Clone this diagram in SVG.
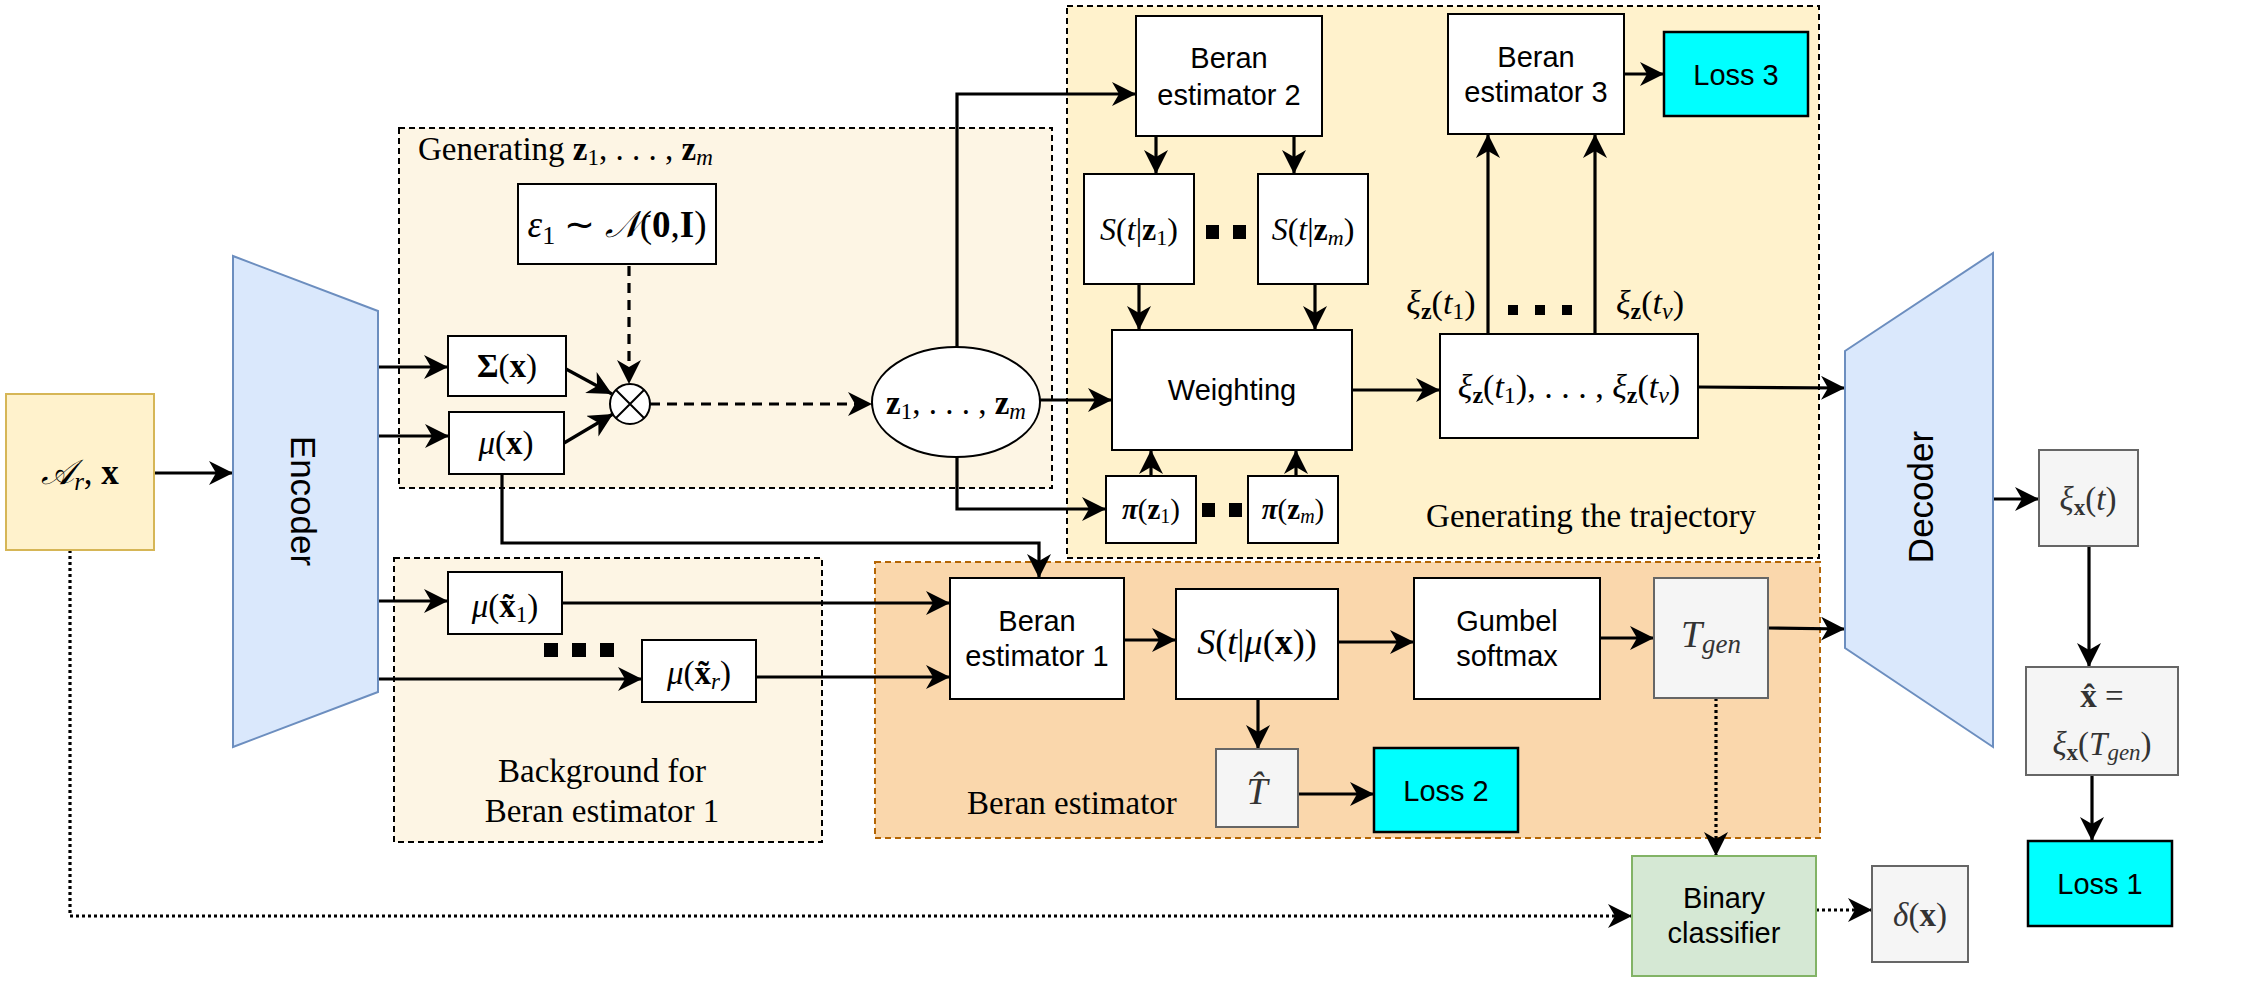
<svg xmlns="http://www.w3.org/2000/svg" width="2248" height="982" viewBox="0 0 2248 982">
<style>
.box{fill:#fff;stroke:#000;stroke-width:2}
.gray{fill:#f5f5f5;stroke:#666;stroke-width:2}
.cyan{fill:#00ffff;stroke:#000;stroke-width:2.5}
.lbl{font-family:"Liberation Sans",Arial,sans-serif;font-size:29px;text-anchor:middle;fill:#000}
.m{font-family:"Liberation Serif","Times New Roman",serif;text-anchor:middle;fill:#000}
.g{fill:#333}
.t{font-family:"Liberation Serif","Times New Roman",serif;font-size:33px;fill:#000}
.it{font-style:italic}
.bf{font-weight:bold}
.conn{fill:none;stroke:#000;stroke-width:3.2}
.dash{stroke-dasharray:10 7}
.dot{stroke-dasharray:3 3}
.dots rect{fill:#000}
</style>
<defs>
<marker id="ah" markerUnits="userSpaceOnUse" markerWidth="24" markerHeight="24" viewBox="0 0 24 24" refX="24" refY="12" orient="auto">
<path d="M0,0 L24,12 L0,24 L7,12 z" fill="#000"/>
</marker>
</defs>

<!-- containers -->
<g id="grp-generating">
<rect x="399" y="128" width="653" height="360" fill="#fdf5e4" stroke="#000" stroke-width="2" stroke-dasharray="6 4"/>
<text class="t" x="418" y="160">Generating <tspan class="bf">z</tspan><tspan font-size="23" dy="5">1</tspan><tspan dy="-5">, . . . , </tspan><tspan class="bf">z</tspan><tspan class="it" font-size="23" dy="5">m</tspan></text>
</g>
<g id="grp-trajectory">
<rect x="1067" y="6" width="752" height="552" fill="#fff2cc" stroke="#000" stroke-width="2" stroke-dasharray="6 4"/>
<text class="t" x="1591" y="527" text-anchor="middle">Generating the trajectory</text>
</g>
<g id="grp-background">
<rect x="394" y="558" width="428" height="284" fill="#fdf5e4" stroke="#000" stroke-width="2" stroke-dasharray="6 4"/>
<text class="t" x="602" y="782" text-anchor="middle">Background for</text>
<text class="t" x="602" y="822" text-anchor="middle">Beran estimator 1</text>
</g>
<g id="grp-beran">
<rect x="875" y="562" width="945" height="276" fill="#fad7ac" stroke="#b46504" stroke-width="2" stroke-dasharray="6 4"/>
<text class="t" x="967" y="814">Beran estimator</text>
</g>

<!-- connectors -->
<g id="connectors">
<path class="conn" d="M154,473 L233,473" marker-end="url(#ah)"/>
<path class="conn" d="M378,367 L448,367" marker-end="url(#ah)"/>
<path class="conn" d="M378,436 L449,436" marker-end="url(#ah)"/>
<path class="conn" d="M566,369 L612,394" marker-end="url(#ah)"/>
<path class="conn" d="M564,443 L613,414" marker-end="url(#ah)"/>
<path class="conn dash" d="M629,266 L629,384" marker-end="url(#ah)"/>
<path class="conn dash" d="M650,404 L872,404" marker-end="url(#ah)"/>
<path class="conn" d="M957,347 L957,94 L1136,94" marker-end="url(#ah)"/>
<path class="conn" d="M957,457 L957,509 L1106,509" marker-end="url(#ah)"/>
<path class="conn" d="M1040,400 L1112,400" marker-end="url(#ah)"/>
<path class="conn" d="M502,474 L502,543 L1039,543 L1039,578" marker-end="url(#ah)"/>
<path class="conn" d="M378,601 L448,601" marker-end="url(#ah)"/>
<path class="conn" d="M378,679 L642,679" marker-end="url(#ah)"/>
<path class="conn" d="M562,603 L950,603" marker-end="url(#ah)"/>
<path class="conn" d="M756,677 L950,677" marker-end="url(#ah)"/>
<path class="conn" d="M1156,136 L1156,174" marker-end="url(#ah)"/>
<path class="conn" d="M1294,136 L1294,174" marker-end="url(#ah)"/>
<path class="conn" d="M1139,284 L1139,330" marker-end="url(#ah)"/>
<path class="conn" d="M1315,284 L1315,330" marker-end="url(#ah)"/>
<path class="conn" d="M1151,476 L1151,450" marker-end="url(#ah)"/>
<path class="conn" d="M1296,476 L1296,450" marker-end="url(#ah)"/>
<path class="conn" d="M1352,390 L1440,390" marker-end="url(#ah)"/>
<path class="conn" d="M1488,334 L1488,134" marker-end="url(#ah)"/>
<path class="conn" d="M1595,334 L1595,134" marker-end="url(#ah)"/>
<path class="conn" d="M1624,74 L1664,74" marker-end="url(#ah)"/>
<path class="conn" d="M1698,387 L1845,388" marker-end="url(#ah)"/>
<path class="conn" d="M1124,640 L1176,640" marker-end="url(#ah)"/>
<path class="conn" d="M1338,642 L1414,642" marker-end="url(#ah)"/>
<path class="conn" d="M1600,638 L1654,638" marker-end="url(#ah)"/>
<path class="conn" d="M1768,628 L1845,629" marker-end="url(#ah)"/>
<path class="conn" d="M1258,699 L1258,749" marker-end="url(#ah)"/>
<path class="conn" d="M1298,794 L1374,794" marker-end="url(#ah)"/>
<path class="conn dot" d="M1716,698 L1716,856" marker-end="url(#ah)"/>
<path class="conn dot" d="M70,550 L70,916 L1632,916" marker-end="url(#ah)"/>
<path class="conn dot" d="M1816,910 L1872,910" marker-end="url(#ah)"/>
<path class="conn" d="M1993,499 L2039,499" marker-end="url(#ah)"/>
<path class="conn" d="M2089,546 L2089,667" marker-end="url(#ah)"/>
<path class="conn" d="M2092,775 L2092,841" marker-end="url(#ah)"/>
</g>

<!-- nodes -->
<g id="input">
<rect x="6" y="394" width="148" height="156" fill="#fff2cc" stroke="#d6b656" stroke-width="2"/>
<text class="m" x="80" y="484" font-size="35"><tspan class="it">𝒜</tspan><tspan class="it" font-size="25" dy="6">r</tspan><tspan dy="-6">, </tspan><tspan class="bf">x</tspan></text>
</g>
<g id="encoder">
<polygon points="233,256 378,311 378,692 233,747" fill="#dae8fc" stroke="#6c8ebf" stroke-width="2"/>
<text class="lbl" transform="translate(303,501) rotate(90)" dominant-baseline="central" style="font-size:35px">Encoder</text>
</g>
<g id="eps">
<rect class="box" x="518" y="184" width="198" height="80"/>
<text class="m" x="617" y="237" font-size="37"><tspan class="it">ε</tspan><tspan font-size="26" dy="7">1</tspan><tspan dy="-7"> ∼ </tspan><tspan class="it">𝒩</tspan>(<tspan class="bf">0</tspan>,<tspan class="bf">I</tspan>)</text>
</g>
<g id="sigma">
<rect class="box" x="448" y="336" width="118" height="60"/>
<text class="m" x="507" y="377" font-size="33"><tspan class="bf">Σ</tspan>(<tspan class="bf">x</tspan>)</text>
</g>
<g id="mu">
<rect class="box" x="449" y="412" width="115" height="62"/>
<text class="m" x="506" y="454" font-size="33"><tspan class="it">μ</tspan>(<tspan class="bf">x</tspan>)</text>
</g>
<g id="otimes">
<circle cx="630" cy="404" r="20" fill="#fff" stroke="#000" stroke-width="2"/>
<path d="M616,390 L644,418 M644,390 L616,418" stroke="#000" stroke-width="2"/>
</g>
<g id="zset">
<ellipse cx="956" cy="402" rx="84" ry="55" fill="#fff" stroke="#000" stroke-width="2"/>
<text class="m" x="956" y="414" font-size="33"><tspan class="bf">z</tspan><tspan font-size="23" dy="5">1</tspan><tspan dy="-5">, . . . , </tspan><tspan class="bf">z</tspan><tspan class="it" font-size="23" dy="5">m</tspan></text>
</g>
<g id="mux1">
<rect class="box" x="448" y="572" width="114" height="62"/>
<text class="m" x="505" y="617" font-size="33"><tspan class="it">μ</tspan>(<tspan class="bf">x̃</tspan><tspan font-size="23" dy="5">1</tspan><tspan dy="-5">)</tspan></text>
</g>
<g id="muxr">
<rect class="box" x="642" y="640" width="114" height="62"/>
<text class="m" x="699" y="684" font-size="33"><tspan class="it">μ</tspan>(<tspan class="bf">x̃</tspan><tspan class="it" font-size="23" dy="5">r</tspan><tspan dy="-5">)</tspan></text>
</g>
<g id="bg-dots" class="dots">
<rect x="544" y="643" width="14" height="14"/><rect x="572" y="643" width="14" height="14"/><rect x="600" y="643" width="14" height="14"/>
</g>
<g id="beran2">
<rect class="box" x="1136" y="16" width="186" height="120"/>
<text class="lbl" x="1229" y="68">Beran</text>
<text class="lbl" x="1229" y="105">estimator 2</text>
</g>
<g id="beran3">
<rect class="box" x="1448" y="14" width="176" height="120"/>
<text class="lbl" x="1536" y="67">Beran</text>
<text class="lbl" x="1536" y="102">estimator 3</text>
</g>
<g id="loss3">
<rect class="cyan" x="1664" y="32" width="144" height="84"/>
<text class="lbl" x="1736" y="85">Loss 3</text>
</g>
<g id="sz1">
<rect class="box" x="1084" y="174" width="110" height="110"/>
<text class="m" x="1139" y="240" font-size="32"><tspan class="it">S</tspan>(<tspan class="it">t</tspan>|<tspan class="bf">z</tspan><tspan font-size="22" dy="5">1</tspan><tspan dy="-5">)</tspan></text>
</g>
<g id="szm">
<rect class="box" x="1258" y="174" width="110" height="110"/>
<text class="m" x="1313" y="240" font-size="32"><tspan class="it">S</tspan>(<tspan class="it">t</tspan>|<tspan class="bf">z</tspan><tspan class="it" font-size="22" dy="5">m</tspan><tspan dy="-5">)</tspan></text>
</g>
<g id="s-dots" class="dots">
<rect x="1206" y="225" width="13" height="14"/><rect x="1233" y="225" width="13" height="14"/>
</g>
<g id="weighting">
<rect class="box" x="1112" y="330" width="240" height="120"/>
<text class="lbl" x="1232" y="400">Weighting</text>
</g>
<g id="piz1">
<rect class="box" x="1106" y="476" width="90" height="67"/>
<text class="m" x="1151" y="519" font-size="29"><tspan class="it bf">π</tspan>(<tspan class="bf">z</tspan><tspan font-size="20" dy="4">1</tspan><tspan dy="-4">)</tspan></text>
</g>
<g id="pizm">
<rect class="box" x="1248" y="476" width="90" height="67"/>
<text class="m" x="1293" y="519" font-size="29"><tspan class="it bf">π</tspan>(<tspan class="bf">z</tspan><tspan class="it" font-size="20" dy="4">m</tspan><tspan dy="-4">)</tspan></text>
</g>
<g id="pi-dots" class="dots">
<rect x="1202" y="503" width="13" height="14"/><rect x="1229" y="503" width="13" height="14"/>
</g>
<g id="xiz">
<rect class="box" x="1440" y="334" width="258" height="104"/>
<text class="m" x="1569" y="398" font-size="34"><tspan class="it">ξ</tspan><tspan class="bf" font-size="24" dy="5">z</tspan><tspan dy="-5">(</tspan><tspan class="it">t</tspan><tspan font-size="24" dy="5">1</tspan><tspan dy="-5">), . . . , </tspan><tspan class="it">ξ</tspan><tspan class="bf" font-size="24" dy="5">z</tspan><tspan dy="-5">(</tspan><tspan class="it">t</tspan><tspan class="it" font-size="24" dy="5">v</tspan><tspan dy="-5">)</tspan></text>
</g>
<g id="xiz-labels">
<text class="m" x="1441" y="314" font-size="34"><tspan class="it">ξ</tspan><tspan class="bf" font-size="24" dy="5">z</tspan><tspan dy="-5">(</tspan><tspan class="it">t</tspan><tspan font-size="24" dy="5">1</tspan><tspan dy="-5">)</tspan></text>
<text class="m" x="1650" y="314" font-size="34"><tspan class="it">ξ</tspan><tspan class="bf" font-size="24" dy="5">z</tspan><tspan dy="-5">(</tspan><tspan class="it">t</tspan><tspan class="it" font-size="24" dy="5">v</tspan><tspan dy="-5">)</tspan></text>
</g>
<g id="xi-dots" class="dots">
<rect x="1508" y="305" width="10" height="10"/><rect x="1535" y="305" width="10" height="10"/><rect x="1562" y="305" width="10" height="10"/>
</g>
<g id="beran1">
<rect class="box" x="950" y="578" width="174" height="121"/>
<text class="lbl" x="1037" y="631">Beran</text>
<text class="lbl" x="1037" y="666">estimator 1</text>
</g>
<g id="smu">
<rect class="box" x="1176" y="589" width="162" height="110"/>
<text class="m" x="1257" y="654" font-size="36"><tspan class="it">S</tspan>(<tspan class="it">t</tspan>|<tspan class="it">μ</tspan>(<tspan class="bf">x</tspan>))</text>
</g>
<g id="gumbel">
<rect class="box" x="1414" y="578" width="186" height="121"/>
<text class="lbl" x="1507" y="631">Gumbel</text>
<text class="lbl" x="1507" y="666">softmax</text>
</g>
<g id="tgen">
<rect class="gray" x="1654" y="578" width="114" height="120"/>
<text class="m g" x="1711" y="647" font-size="38"><tspan class="it">T</tspan><tspan class="it" font-size="27" dy="6">gen</tspan></text>
</g>
<g id="that">
<rect class="gray" x="1216" y="749" width="82" height="78"/>
<text class="m g" x="1257" y="804" font-size="38"><tspan class="it">T̂</tspan></text>
</g>
<g id="loss2">
<rect class="cyan" x="1374" y="748" width="144" height="84"/>
<text class="lbl" x="1446" y="801">Loss 2</text>
</g>
<g id="decoder">
<polygon points="1845,351 1993,253 1993,747 1845,648" fill="#dae8fc" stroke="#6c8ebf" stroke-width="2"/>
<text class="lbl" transform="translate(1920,497) rotate(-90)" dominant-baseline="central" style="font-size:35px">Decoder</text>
</g>
<g id="xix">
<rect class="gray" x="2039" y="450" width="99" height="96"/>
<text class="m g" x="2088" y="510" font-size="33"><tspan class="it">ξ</tspan><tspan class="bf" font-size="23" dy="5">x</tspan><tspan dy="-5">(</tspan><tspan class="it">t</tspan>)</text>
</g>
<g id="xhat">
<rect class="gray" x="2026" y="667" width="152" height="108"/>
<text class="m g" x="2102" y="707" font-size="33"><tspan class="bf">x̂</tspan> =</text>
<text class="m g" x="2102" y="755" font-size="33"><tspan class="it">ξ</tspan><tspan class="bf" font-size="23" dy="5">x</tspan><tspan dy="-5">(</tspan><tspan class="it">T</tspan><tspan class="it" font-size="23" dy="5">gen</tspan><tspan dy="-5">)</tspan></text>
</g>
<g id="loss1">
<rect class="cyan" x="2028" y="841" width="144" height="85"/>
<text class="lbl" x="2100" y="894">Loss 1</text>
</g>
<g id="classifier">
<rect x="1632" y="856" width="184" height="120" fill="#d5e8d4" stroke="#82b366" stroke-width="2"/>
<text class="lbl" x="1724" y="908">Binary</text>
<text class="lbl" x="1724" y="943">classifier</text>
</g>
<g id="delta">
<rect class="gray" x="1872" y="866" width="96" height="96"/>
<text class="m g" x="1920" y="926" font-size="33"><tspan class="it">δ</tspan>(<tspan class="bf">x</tspan>)</text>
</g>
</svg>
